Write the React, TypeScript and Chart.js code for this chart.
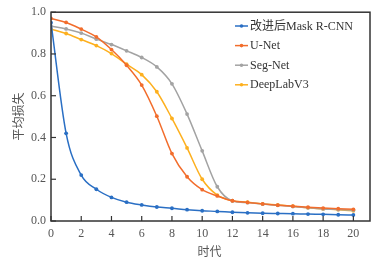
import React, { useEffect, useRef } from "react";
import { Chart, registerables } from "chart.js";

Chart.register(...registerables);

const epochs = [0, 1, 2, 3, 4, 5, 6, 7, 8, 9, 10, 11, 12, 13, 14, 15, 16, 17, 18, 19, 20];
const maskRCNN = [0.95, 0.42, 0.22, 0.152, 0.113, 0.09, 0.077, 0.067, 0.061, 0.054, 0.049, 0.046, 0.042, 0.039, 0.037, 0.036, 0.035, 0.033, 0.032, 0.03, 0.029];
const uNet = [0.97, 0.951, 0.919, 0.882, 0.821, 0.746, 0.651, 0.502, 0.323, 0.212, 0.15, 0.12, 0.097, 0.089, 0.082, 0.076, 0.071, 0.066, 0.062, 0.059, 0.056];
const segNet = [0.933, 0.92, 0.9, 0.871, 0.845, 0.815, 0.783, 0.738, 0.657, 0.512, 0.336, 0.164, 0.096, 0.088, 0.081, 0.075, 0.069, 0.063, 0.058, 0.055, 0.052];
const deepLab = [0.919, 0.898, 0.869, 0.84, 0.802, 0.751, 0.701, 0.619, 0.491, 0.35, 0.2, 0.124, 0.097, 0.09, 0.082, 0.077, 0.071, 0.063, 0.058, 0.054, 0.049];
const seriesNames = ["改进后Mask R-CNN", "U-Net", "Seg-Net", "DeepLabV3"];
const seriesColors = ["#2a6fc4", "#f26d2c", "#a3a3a3", "#fdb01f"];
const xTitle = "时代";
const yTitle = "平均损失";

const FONT = "'Liberation Serif', 'Noto Sans CJK SC', serif";

const decorPlugin = {
  id: "decor",
  afterDraw(chart: any) {
    const ctx = chart.ctx;
    const { left, right, top, bottom } = chart.chartArea;
    ctx.save();
    // border
    ctx.strokeStyle = "#333";
    ctx.lineWidth = 1.5;
    ctx.strokeRect(left, top, right - left, bottom - top);
    // inward ticks
    ctx.lineWidth = 1.2;
    const xs = chart.scales.x;
    xs.ticks.forEach((t: any) => {
      const px = xs.getPixelForValue(t.value);
      ctx.beginPath();
      ctx.moveTo(px, bottom);
      ctx.lineTo(px, bottom - 5);
      ctx.stroke();
    });
    const ys = chart.scales.y;
    ys.ticks.forEach((t: any) => {
      const py = ys.getPixelForValue(t.value);
      ctx.beginPath();
      ctx.moveTo(left, py);
      ctx.lineTo(left + 5, py);
      ctx.stroke();
    });
    // axis titles
    ctx.fillStyle = "#555";
    ctx.font = "12px 'Noto Sans CJK SC', sans-serif";
    ctx.textAlign = "center";
    ctx.textBaseline = "middle";
    ctx.fillText(xTitle, (left + right) / 2 - 1, 251);
    ctx.save();
    ctx.translate(18, (top + bottom) / 2);
    ctx.rotate(-Math.PI / 2);
    ctx.fillText(yTitle, 0, 0);
    ctx.restore();
    // legend
    ctx.font = "12px " + FONT;
    ctx.textAlign = "left";
    chart.data.datasets.forEach((ds: any, i: number) => {
      const y = 26 + i * 19.6;
      ctx.strokeStyle = ds.borderColor;
      ctx.lineWidth = 1.5;
      ctx.beginPath();
      ctx.moveTo(235, y);
      ctx.lineTo(248, y);
      ctx.stroke();
      ctx.fillStyle = ds.borderColor;
      ctx.beginPath();
      ctx.arc(241.5, y, 1.8, 0, Math.PI * 2);
      ctx.fill();
      ctx.fillStyle = "#333";
      ctx.fillText(ds.label, 250, y + 0.5);
    });
    ctx.restore();
  },
};

export default function App() {
  const ref = useRef<HTMLCanvasElement>(null);
  useEffect(() => {
    document.body.style.margin = "0";
    const all = [maskRCNN, uNet, segNet, deepLab];
    const chart = new Chart(ref.current!, {
      type: "line",
      data: {
        datasets: all.map((vals, i) => ({
          label: seriesNames[i],
          data: epochs.map((e, j) => ({ x: e, y: vals[j] })),
          borderColor: seriesColors[i],
          backgroundColor: seriesColors[i],
          borderWidth: 1.5,
          pointRadius: 1.9,
          pointHoverRadius: 1.9,
          pointBorderWidth: 0,
          cubicInterpolationMode: "monotone" as const,
          fill: false,
        })),
      },
      options: {
        responsive: false,
        animation: false,
        events: [],
        layout: { padding: { top: 12, right: 17, left: 0, bottom: 0 } },
        plugins: { legend: { display: false }, tooltip: { enabled: false } },
        scales: {
          x: {
            type: "linear",
            min: 0,
            max: 21.1,
            grid: { display: false, drawTicks: false, tickLength: 0 },
            border: { display: false },
            ticks: {
              stepSize: 2,
              includeBounds: false,
              color: "#555",
              font: { family: FONT, size: 12 },
              padding: 6,
              maxRotation: 0,
            },
            afterFit: (s: any) => {
              s.height = 40;
            },
          },
          y: {
            min: 0,
            max: 1,
            grid: { display: false, drawTicks: false, tickLength: 0 },
            border: { display: false },
            ticks: {
              stepSize: 0.2,
              color: "#555",
              font: { family: FONT, size: 12 },
              padding: 5,
              callback: (v: any) => Number(v).toFixed(1),
            },
            afterFit: (s: any) => {
              s.width = 51;
            },
          },
        },
      },
      plugins: [decorPlugin],
    });
    return () => chart.destroy();
  }, []);
  return (
    <div style={{ width: 387, height: 261, background: "#fff" }}>
      <canvas ref={ref} width={387} height={261} />
    </div>
  );
}
